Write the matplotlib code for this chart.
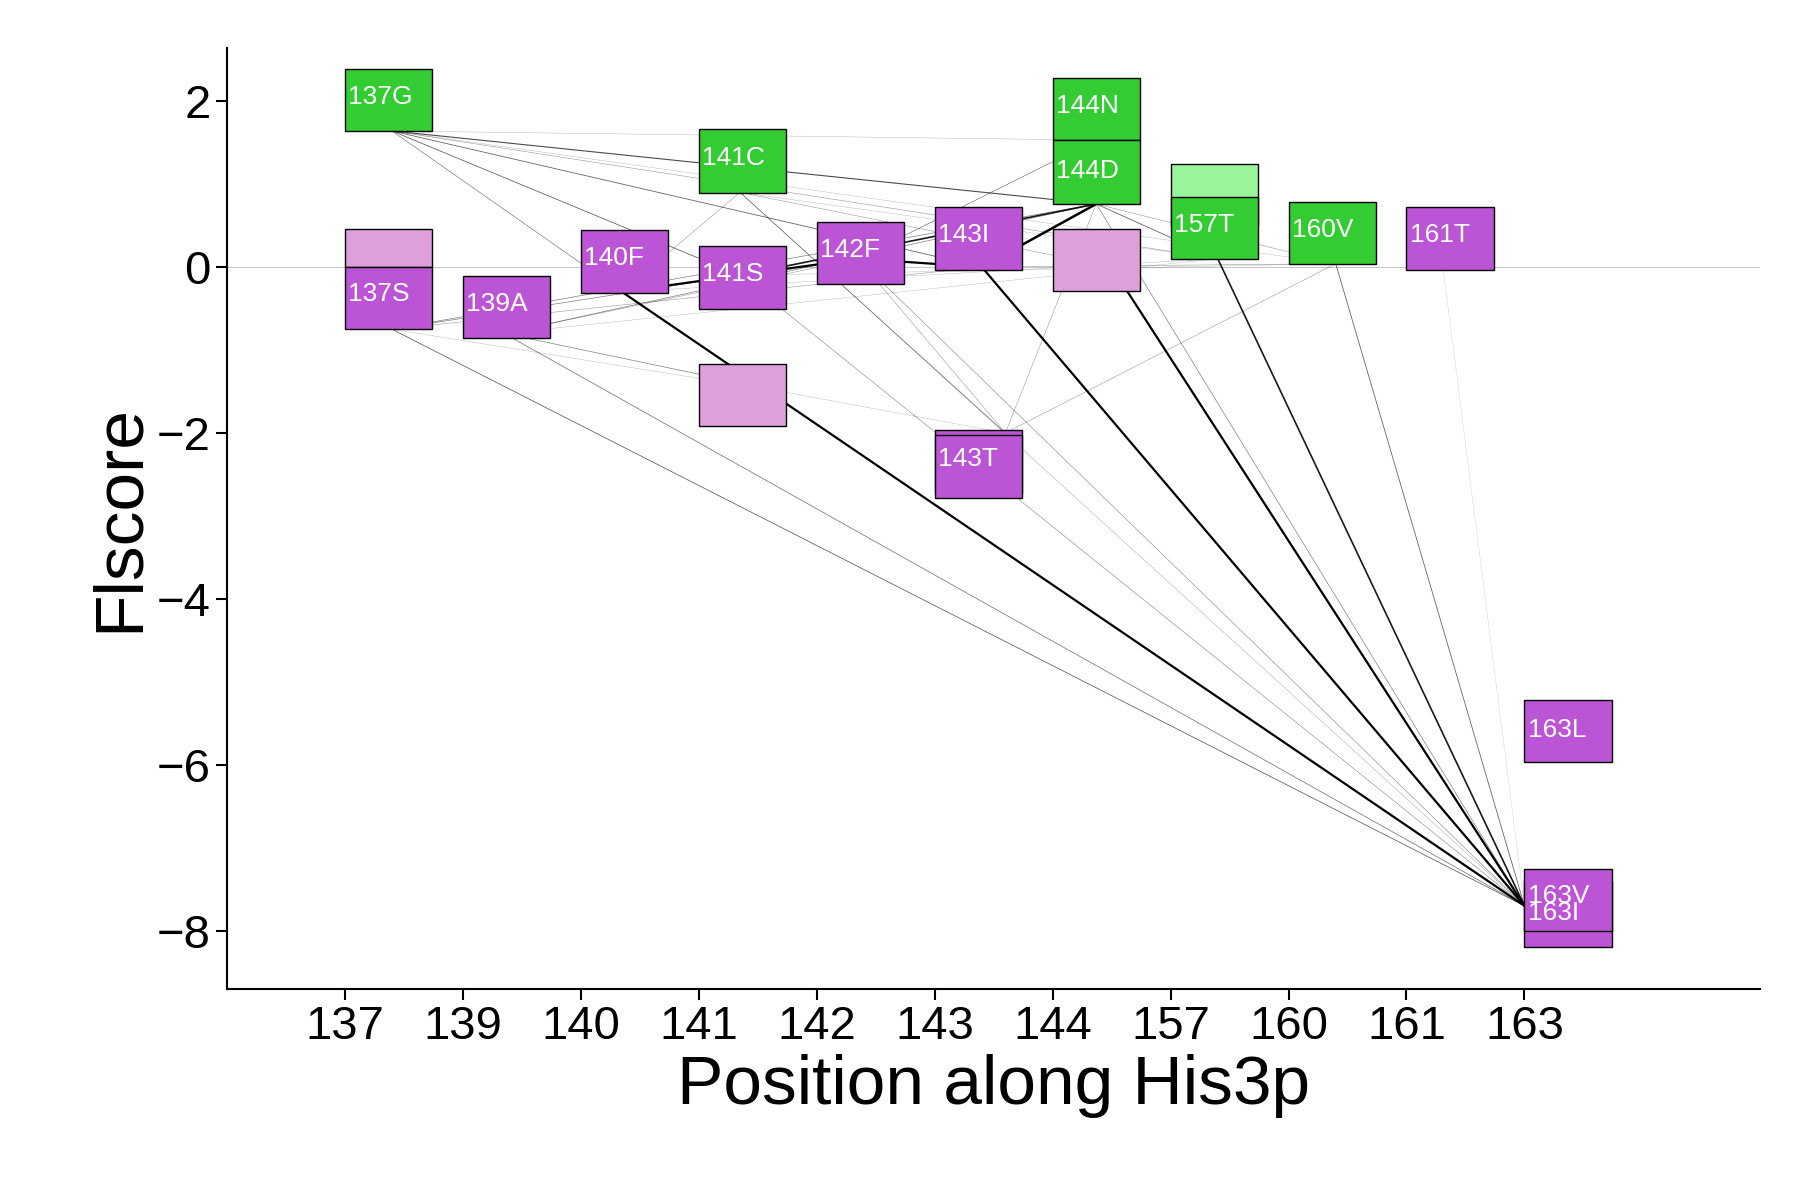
import matplotlib
matplotlib.use("Agg")
import matplotlib.pyplot as plt
from matplotlib.patches import Rectangle

plt.rcParams['font.family'] = ['Liberation Sans', 'DejaVu Sans']

positions = ["137", "139", "140", "141", "142", "143", "144", "157", "160", "161", "163"]
GREEN, LGREEN, PURPLE, LPINK = "#33cc33", "#99f599", "#bb55d6", "#dda0dd"

# boxes: (position index, top, bottom, colour, label)
box_pos = [0, 0, 0, 1, 2, 3, 3, 3, 4, 5, 5, 5, 6, 6, 6, 7, 7, 8, 9, 10, 10, 10]
box_top = [2.39, 0.46, 0.0, -0.11, 0.45, 1.66, 0.25, -1.17, 0.54, 0.72, -1.97, -2.03, 2.28, 1.53, 0.46, 1.24, 0.85, 0.78, 0.72, -5.22, -7.4, -7.25]
box_bot = [1.64, 0.0, -0.75, -0.86, -0.31, 0.89, -0.51, -1.92, -0.21, -0.03, -2.72, -2.78, 1.53, 0.76, -0.29, 0.5, 0.1, 0.04, -0.03, -5.97, -8.2, -8.0]
box_col = [GREEN, LPINK, PURPLE, PURPLE, PURPLE, GREEN, PURPLE, LPINK, PURPLE, PURPLE, PURPLE, PURPLE,
           GREEN, GREEN, LPINK, LGREEN, GREEN, GREEN, PURPLE, PURPLE, PURPLE, PURPLE]
box_lab = ["137G", "", "137S", "139A", "140F", "141C", "141S", "", "142F", "143I", "", "143T",
           "144N", "144D", "", "", "157T", "160V", "161T", "163L", "163I", "163V"]
label_y = [2.05, None, -0.33, -0.44, 0.11, 1.32, -0.09, None, 0.2, 0.38, None, -2.32,
           1.94, 1.16, None, None, 0.51, 0.45, 0.38, -5.58, -7.79, -7.58]

# network nodes (x in position units, y in Fl score)
nodes = {
    "137G": (0.4, 1.64), "137S": (0.4, -0.75), "139A": (1.35, -0.8), "140F": (2.35, -0.3),
    "141C": (3.35, 0.9), "141S": (3.35, -0.1), "141L": (3.7, -1.5), "142F": (4.35, 0.1),
    "143I": (5.4, 0.0), "143T": (5.6, -2.0), "144D": (6.37, 0.76), "144N": (6.37, 1.53),
    "144L": (6.5, 0.0), "157T": (7.4, 0.1), "160V": (8.4, 0.04), "161T": (9.3, 0.1),
    "163": (10.0, -7.7),
}
# edges: (from, to, linewidth, alpha)
edges = [
    ("140F", "163", 1.6, 1.0), ("143I", "163", 1.6, 1.0), ("144L", "163", 1.6, 1.0),
    ("157T", "163", 1.2, 0.9), ("137S", "163", 0.6, 0.6), ("139A", "163", 0.6, 0.5),
    ("141S", "163", 0.5, 0.4), ("142F", "163", 0.5, 0.4), ("160V", "163", 0.6, 0.6),
    ("144D", "163", 0.5, 0.5), ("141C", "163", 0.4, 0.3), ("161T", "163", 0.3, 0.2),
    ("140F", "142F", 1.6, 1.0), ("142F", "143I", 1.6, 1.0), ("143I", "144D", 1.8, 1.0),
    ("141S", "144D", 1.2, 0.9), ("137G", "144D", 0.8, 0.7), ("137G", "141S", 0.6, 0.6),
    ("137G", "143I", 0.6, 0.6), ("137G", "140F", 0.5, 0.5), ("137G", "157T", 0.4, 0.4),
    ("137G", "160V", 0.3, 0.3), ("137G", "144N", 0.3, 0.3), ("137S", "141S", 0.5, 0.5),
    ("137S", "144D", 0.5, 0.5), ("137S", "143I", 0.4, 0.4), ("139A", "144D", 0.5, 0.5),
    ("139A", "141L", 0.5, 0.5), ("139A", "142F", 0.4, 0.4), ("139A", "157T", 0.3, 0.3),
    ("140F", "141C", 0.4, 0.4), ("141C", "143T", 0.5, 0.5), ("141C", "144L", 0.4, 0.4),
    ("141C", "157T", 0.3, 0.3), ("142F", "144N", 0.5, 0.5), ("142F", "143T", 0.4, 0.4),
    ("143T", "144D", 0.4, 0.4), ("143T", "160V", 0.4, 0.4), ("144D", "157T", 0.6, 0.6),
    ("144D", "160V", 0.4, 0.4), ("141S", "160V", 0.3, 0.3), ("143I", "160V", 0.4, 0.4),
    ("141L", "143T", 0.3, 0.3), ("137S", "141L", 0.3, 0.3), ("140F", "157T", 0.3, 0.3),
]

fig = plt.figure(figsize=(18, 12), dpi=100)
ax = fig.add_axes([0.126, 0.176, 0.852, 0.784])
ax.axhline(0, color="#bbbbbb", lw=0.6, zorder=0)

for a, b, lw, al in edges:
    (x1, y1), (x2, y2) = nodes[a], nodes[b]
    ax.plot([x1, x2], [y1, y2], color="black", lw=lw, alpha=al, zorder=1)

for p, t, b, c, lab, ly in zip(box_pos, box_top, box_bot, box_col, box_lab, label_y):
    ax.add_patch(Rectangle((p, b), 0.74, t - b, facecolor=c, edgecolor="black", lw=1.0, zorder=2))
    if lab:
        ax.text(p + 0.03, ly, lab, color="white", fontsize=19, va="center", ha="left", zorder=3)

ax.set_xlim(-1.0, 12.0)
ax.set_ylim(-8.7, 2.64)
ax.set_xticks(range(len(positions)))
ax.set_xticklabels(positions)
ax.set_yticks([2, 0, -2, -4, -6, -8])
ax.set_yticklabels(["2", "0", "\u22122", "\u22124", "\u22126", "\u22128"])
ax.tick_params(labelsize=34, width=1.5, length=8)
for s in ["top", "right"]:
    ax.spines[s].set_visible(False)
for s in ["left", "bottom"]:
    ax.spines[s].set_linewidth(1.5)
ax.set_xlabel("Position along His3p", fontsize=50)
ax.set_ylabel("Flscore", fontsize=50)
fig.savefig("out.png")
